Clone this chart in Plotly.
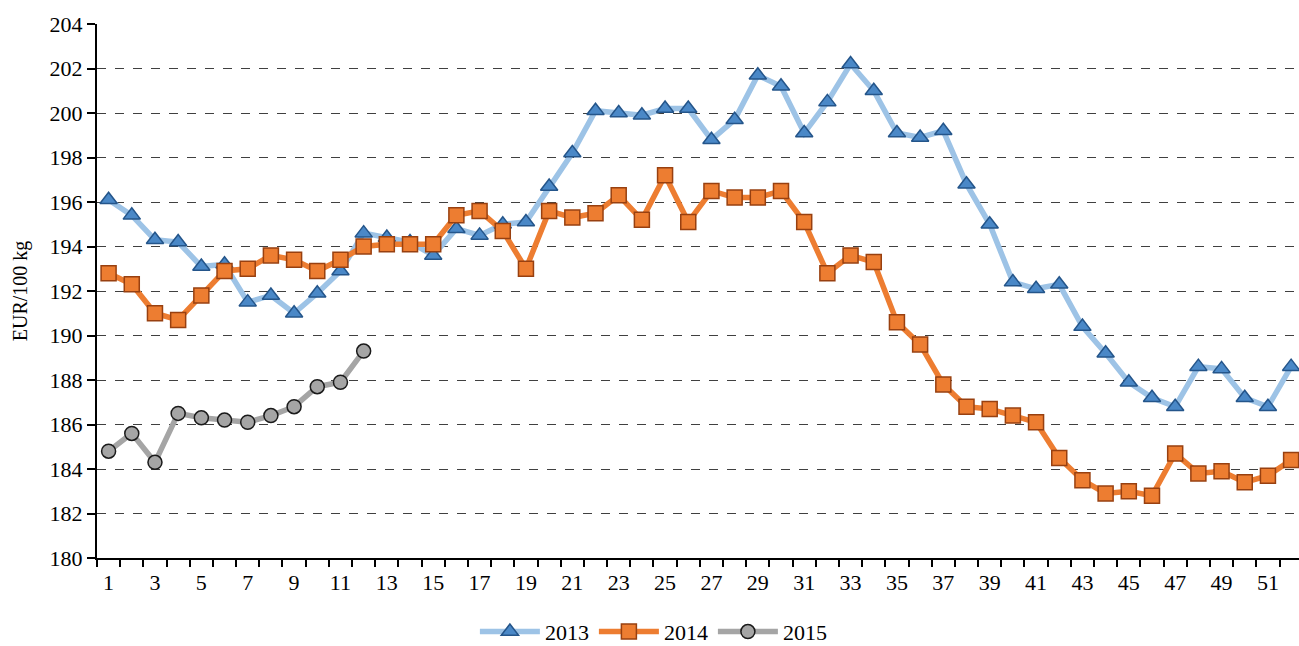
import plotly.graph_objects as go

weeks = list(range(1, 53))
y2013 = [196.1, 195.4, 194.3, 194.2, 193.1, 193.2, 191.5, 191.8, 191.0, 191.9,
         192.9, 194.6, 194.4, 194.2, 193.6, 194.8, 194.5, 195.0, 195.1, 196.7,
         198.2, 200.1, 200.0, 199.9, 200.2, 200.2, 198.8, 199.7, 201.7, 201.2,
         199.1, 200.5, 202.2, 201.0, 199.1, 198.9, 199.2, 196.8, 195.0, 192.4,
         192.1, 192.3, 190.4, 189.2, 187.9, 187.2, 186.8, 188.6, 188.5, 187.2,
         186.8, 188.6]
y2014 = [192.8, 192.3, 191.0, 190.7, 191.8, 192.9, 193.0, 193.6, 193.4, 192.9,
         193.4, 194.0, 194.1, 194.1, 194.1, 195.4, 195.6, 194.7, 193.0, 195.6,
         195.3, 195.5, 196.3, 195.2, 197.2, 195.1, 196.5, 196.2, 196.2, 196.5,
         195.1, 192.8, 193.6, 193.3, 190.6, 189.6, 187.8, 186.8, 186.7, 186.4,
         186.1, 184.5, 183.5, 182.9, 183.0, 182.8, 184.7, 183.8, 183.9, 183.4,
         183.7, 184.4]
y2015 = [184.8, 185.6, 184.3, 186.5, 186.3, 186.2, 186.1, 186.4, 186.8, 187.7,
         187.9, 189.3]
x_ticks = list(range(1, 52, 2))
y_ticks = list(range(180, 205, 2))

FONT = "Liberation Serif, Times New Roman, serif"

fig = go.Figure()
fig.add_trace(go.Scatter(
    x=weeks, y=y2013, name="2013", mode="lines+markers",
    line=dict(color="#9dc3e6", width=5.5),
    marker=dict(symbol="triangle-up", size=15, color="#4a88c7",
                line=dict(color="#24558a", width=1.5)),
))
fig.add_trace(go.Scatter(
    x=weeks, y=y2014, name="2014", mode="lines+markers",
    line=dict(color="#ed7d31", width=5.5),
    marker=dict(symbol="square", size=15, color="#ed7d31",
                line=dict(color="#984010", width=1.5)),
))
fig.add_trace(go.Scatter(
    x=weeks[:len(y2015)], y=y2015, name="2015", mode="lines+markers",
    line=dict(color="#a5a5a5", width=5.5),
    marker=dict(symbol="circle", size=14, color="#a5a5a5",
                line=dict(color="#1a1a1a", width=1.5)),
))

fig.update_layout(
    width=1299, height=646,
    margin=dict(l=97, r=0, t=24, b=88),
    paper_bgcolor="white", plot_bgcolor="white",
    font=dict(family=FONT, size=22, color="black"),
    showlegend=True,
    legend=dict(orientation="h", xref="container", x=0.503, xanchor="center",
                yref="container", y=0.022, yanchor="middle",
                font=dict(size=22), itemwidth=60),
)
fig.update_xaxes(
    range=[0.5, 52.34], tickmode="array", tickvals=x_ticks,
    ticktext=[str(v) for v in x_ticks], ticks="", showgrid=False,
    showline=True, linecolor="black", linewidth=2, zeroline=False,
    tickfont=dict(size=22), ticklabelstandoff=4, automargin=False,
    minor=dict(tickmode="array", tickvals=[v + 0.5 for v in range(0, 53)],
               ticks="outside", ticklen=7, tickwidth=2, tickcolor="black",
               showgrid=False),
)
fig.update_yaxes(
    range=[180, 204], tickmode="array", tickvals=y_ticks,
    ticks="outside", ticklen=8, tickwidth=2, tickcolor="black",
    showline=True, linecolor="black", linewidth=2, zeroline=False,
    showgrid=True, gridcolor="#404040", griddash="dash", gridwidth=1,
    tickfont=dict(size=22), automargin=False,
    title=dict(text="EUR/100 kg", font=dict(size=20), standoff=17),
)
fig.write_html("out.html", config={"displayModeBar": False})

with open("out.html", "r", encoding="utf-8") as f:
    html = f.read()
html = html.replace("<body>", '<body style="margin:0;padding:0;">', 1)
with open("out.html", "w", encoding="utf-8") as f:
    f.write(html)
